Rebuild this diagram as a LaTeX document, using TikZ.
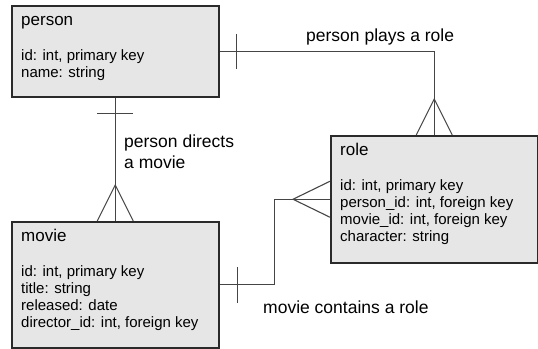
\documentclass[tikz,border=0pt]{standalone}
\usepackage{fontspec}
\setmainfont{Liberation Sans}
\usetikzlibrary{positioning,calc}
\definecolor{tgray}{HTML}{E6E6E7}
\definecolor{tgrayd}{HTML}{2A2A2A}
\definecolor{lgrayd}{HTML}{454545}
\tikzset{
  % table box: light fill, dark outline
  tbl/.style  = {rectangle, draw=tgrayd, fill=tgray, line width=1.5pt,
                 minimum width=207pt, inner sep=0pt, anchor=north west},
  hdr/.style  = {anchor=base west, inner sep=0pt, font=\fontsize{17}{20}\selectfont},
  fld/.style  = {anchor=base west, inner sep=0pt, font=\fontsize{15}{17}\selectfont},
  tag/.style  = {inner sep=0pt, align=left, font=\fontsize{17.5}{20.5}\selectfont},
  lane/.style = {line width=1.1pt, draw=lgrayd},
}

\begin{document}
\begin{tikzpicture}[x=1pt,y=-1pt]
\useasboundingbox (0,0) rectangle (538,348);
% tables
\node[tbl, minimum height=91pt]  (person) at (11,5)    {};
\node[tbl, minimum height=126pt] (movie)  at (11,221)  {};
\node[tbl, minimum height=127pt] (role)   at (330,135) {};
\node[hdr] (person-t) at ($(person.north west)+(10,20)$) {person};
\node[hdr] (movie-t)  at ($(movie.north west)+(10,20)$)  {movie};
\node[hdr] (role-t)   at ($(role.north west)+(10,20)$)   {role};
\foreach \f [count=\i] in {{id: int, primary key},{name: string}}
  {\node[fld] (person-f\i) at ($(person.north west)+(10,{38+17.2*\i})$) {\f};}
\foreach \f [count=\i] in {{id: int, primary key},{title: string},{released: date},
                          {director\_id: int, foreign key}}
  {\node[fld] (movie-f\i) at ($(movie.north west)+(10,{38+17.2*\i})$) {\f};}
\foreach \f [count=\i] in {{id: int, primary key},{person\_id: int, foreign key},
                          {movie\_id: int, foreign key},{character: string}}
  {\node[fld] (role-f\i) at ($(role.north west)+(10,{38+17.2*\i})$) {\f};}
% person plays a role
\draw[lane] (person.east) -| (role.north);
\draw[lane] ($(person.east)+(17,-17.5)$) -- ++(0,35);
\draw[lane] ($(role.north)+(-18,0)$) -- ($(role.north)+(0,-36)$) -- ($(role.north)+(18,0)$);
% person directs a movie
\draw[lane] (person.south) -- (movie.north);
\draw[lane] ($(person.south)+(-18,16)$) -- ++(36,0);
\draw[lane] ($(movie.north)+(-18,0)$) -- ($(movie.north)+(0,-36)$) -- ($(movie.north)+(18,0)$);
% movie contains a role
\draw[lane] (movie.east) -- ++(55,0) |- (role.west);
\draw[lane] ($(movie.east)+(18,-18)$) -- ++(0,36);
\draw[lane] ($(role.west)+(0,-18)$) -- ($(role.west)+(-37,0)$) -- ($(role.west)+(0,18)$);
% labels
\node[tag, anchor=base west]  (plays)    at (306,41)  {person plays a role};
\node[tag, anchor=north west] (directs)  at (124,135) {person directs\\a movie};
\node[tag, anchor=base west]  (contains) at (263,313) {movie contains a role};
\end{tikzpicture}
\end{document}
